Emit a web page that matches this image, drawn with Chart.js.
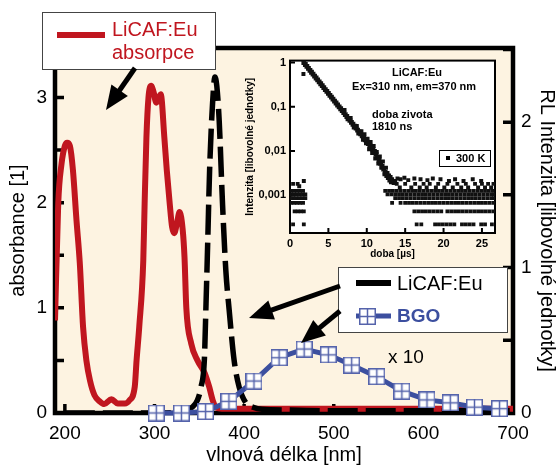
<!DOCTYPE html>
<html>
<head>
<meta charset="utf-8">
<script src="https://cdn.jsdelivr.net/npm/chart.js@4.4.1/dist/chart.umd.min.js"></script>
<style>
  body { margin: 0; background: #fff; }
  #wrap { position: relative; width: 559px; height: 466px; }
  #main { position: absolute; left: 0; top: 0; }
  #inset { position: absolute; left: 240px; top: 50px; }
</style>
</head>
<body>
<div id="wrap">
  <canvas id="main" width="559" height="466"></canvas>
  <canvas id="inset" width="265" height="215"></canvas>
</div>
<script>
// ---- main chart data ----
const absNm  = [189, 192.6, 196.3, 200, 202.6, 205.6, 209, 213, 216.7, 220.3, 224, 228, 233, 239, 244, 252, 259, 267, 272, 278, 280, 283, 287.5, 289, 291, 293.3, 296.5, 299, 302, 307, 311, 313.7, 317, 319.6, 322, 325, 328, 331.5, 333.5, 335.5, 341, 348, 356, 361, 365, 369, 375, 400, 500, 600, 700];
const absVal = [0.88, 1.99, 2.37, 2.54, 2.57, 2.54, 2.31, 1.83, 1.42, 0.82, 0.5, 0.31, 0.17, 0.11, 0.085, 0.13, 0.09, 0.09, 0.12, 0.25, 0.5, 0.82, 1.45, 1.99, 2.62, 3.0, 3.11, 3.05, 2.95, 3.03, 2.62, 2.31, 1.99, 1.77, 1.71, 1.8, 1.91, 1.74, 1.48, 1.0, 0.66, 0.5, 0.38, 0.25, 0.12, 0.05, 0.04, 0.04, 0.04, 0.04, 0.04];

const rlNm  = [200, 300, 335, 342, 348, 352, 355.6, 357.5, 359.5, 361.5, 364.8, 367.4, 369.5, 372.2, 375.9, 379.6, 383.3, 388.9, 394.4, 402, 410, 420, 450, 500, 600, 700];
const rlVal = [0, 0, 0.01, 0.04, 0.09, 0.18, 0.36, 0.75, 1.2, 1.67, 2.13, 2.31, 2.25, 2.01, 1.44, 0.98, 0.71, 0.36, 0.18, 0.07, 0.04, 0.025, 0.02, 0.015, 0.015, 0.015];

const bgoNm  = [302, 330, 357, 383, 411, 439, 467, 494, 520, 548, 576, 604, 630, 657, 685];
const bgoVal = [0, 0, 0.01, 0.08, 0.22, 0.38, 0.44, 0.40, 0.33, 0.25, 0.15, 0.09, 0.07, 0.04, 0.03];

const xTicks  = [200, 300, 400, 500, 600, 700];
const yTicks  = [0, 0.5, 1, 1.5, 2, 2.5, 3];
const y2Ticks = [0, 0.5, 1, 1.5, 2, 2.5];

// ---- inset data (decay, µs / rel. intensity) ----
const decayT = [1.8, 2.0, 2.2, 2.4, 2.6, 2.8, 3.0, 3.2, 3.4, 3.6, 3.8, 4.0, 4.2, 4.4, 4.6, 4.8, 5.0, 5.2, 5.4, 5.6, 5.8, 6.0, 6.2, 6.4, 6.6, 6.8, 7.0, 7.2, 7.4, 7.6, 7.8, 8.0, 8.2, 8.4, 8.6, 8.8, 9.0, 9.2, 9.4, 9.6, 9.8, 10.0, 10.2, 10.4, 10.6, 10.8, 11.0, 11.2, 11.4, 11.6, 11.8, 12.0, 12.2, 12.4, 12.6, 12.8, 13.0, 13.2];
const decayI = [1.0, 0.905, 0.818, 0.741, 0.670, 0.606, 0.548, 0.496, 0.449, 0.406, 0.367, 0.332, 0.301, 0.272, 0.246, 0.223, 0.201, 0.182, 0.165, 0.149, 0.135, 0.122, 0.110, 0.100, 0.0904, 0.0817, 0.0739, 0.0668, 0.0604, 0.0546, 0.0494, 0.0446, 0.0404, 0.0365, 0.0330, 0.0298, 0.0270, 0.0244, 0.0220, 0.0199, 0.0180, 0.0163, 0.0147, 0.0133, 0.0120, 0.0109, 0.0098, 0.0084, 0.0072, 0.0062, 0.0053, 0.0045, 0.0039, 0.0033, 0.0028, 0.0025, 0.0022, 0.0020];

const bandT = [1.75, 1.2, 1.8, 7.1, 7.5, 7.9, 8.3, 8.7, 8.9, 9.3, 9.5, 9.7, 9.9, 10.1, 10.3, 10.5, 10.7, 10.9, 11.1, 11.3, 11.5, 11.7, 11.9, 12.1, 12.3, 12.5, 12.7, 12.9, 13.1, 13.3, 13.5, 13.7, 14.0, 14.4, 14.9, 15.4, 16.2, 17.0, 17.9, 18.6, 19.6, 20.7, 21.5, 22.6, 23.8, 24.9, 14.3, 15.8, 16.9, 17.8, 19.0, 20.1, 21.2, 22.3, 23.2, 24.5, 25.4, 26.2];
const bandI = [0.55, 0.0016, 0.0021, 0.085, 0.052, 0.056, 0.034, 0.037, 0.025, 0.028, 0.018, 0.024, 0.015, 0.019, 0.011, 0.016, 0.009, 0.013, 0.0068, 0.0095, 0.0052, 0.0075, 0.0042, 0.0058, 0.0030, 0.0042, 0.0032, 0.0028, 0.0026, 0.0023, 0.0019, 0.0021, 0.0024, 0.0023, 0.0025, 0.0022, 0.0024, 0.0023, 0.0022, 0.0024, 0.0023, 0.0021, 0.0023, 0.0021, 0.0023, 0.0021, 0.0015, 0.0015, 0.0015, 0.0015, 0.0015, 0.0015, 0.0015, 0.0015, 0.0015, 0.0015, 0.0015, 0.0015];

// background counts: one intensity level per row, times at which it occurs
const floorLevels = [0.00022, 0.00043, 0.00067, 0.00086, 0.00105, 0.00126, 0.0018];
const floorTimes = [
  [0.4, 1.8, 16.5, 17.1, 18.9, 19.4, 19.9, 20.4, 20.9, 21.4, 22.4, 22.9, 23.4, 23.9, 24.9, 25.4, 26.3],
  [0.6, 1.0, 1.4, 1.8, 16.2, 16.7, 17.2, 17.7, 18.2, 18.7, 19.2, 19.7, 20.5, 21.0, 21.5, 22.0, 22.5, 23.0, 23.5, 24.0, 24.5, 25.0, 25.5, 26.0, 26.5],
  [0.1, 0.5, 0.9, 1.3, 1.7, 13.3, 14.4, 15.0, 15.5, 16.0, 16.5, 17.0, 17.5, 18.0, 18.5, 19.0, 19.5, 20.0, 20.5, 21.0, 21.5, 22.0, 22.5, 23.0, 23.5, 24.0, 24.5, 25.0, 25.5, 26.0, 26.5],
  [0.0, 0.4, 0.8, 1.2, 1.6, 2.0, 13.7, 14.2, 14.7, 15.2, 15.7, 16.2, 16.7, 17.2, 17.7, 18.2, 18.7, 19.2, 19.7, 20.2, 20.7, 21.2, 21.7, 22.2, 22.7, 23.2, 23.7, 24.2, 24.7, 25.2, 25.7, 26.2, 26.6],
  [0.1, 0.5, 0.9, 1.3, 1.7, 2.0, 12.7, 13.2, 13.7, 14.2, 14.7, 15.2, 15.7, 16.2, 16.7, 17.2, 17.7, 18.2, 18.7, 19.2, 19.7, 20.2, 20.7, 21.2, 21.7, 22.2, 22.7, 23.2, 23.7, 24.2, 24.7, 25.2, 25.7, 26.2, 26.6],
  [0.1, 0.5, 0.9, 1.3, 1.7, 12.4, 12.9, 13.4, 13.9, 14.4, 14.9, 15.4, 15.9, 16.4, 16.9, 17.4, 17.9, 18.4, 18.9, 19.4, 19.9, 20.4, 20.9, 21.4, 21.9, 22.4, 22.9, 23.4, 23.9, 24.4, 24.9, 25.4, 25.9, 26.4],
  [0.4, 1.0, 13.9, 15.0, 16.3, 17.4, 18.2, 19.3, 20.5, 21.8, 22.9, 24.1, 25.0, 25.8, 26.5]
];

const insetXTicks = [0, 5, 10, 15, 20, 25];
const insetYTicks = [0.001, 0.01, 0.1, 1];
const insetYLabels = ['0,001', '0,01', '0,1', '1'];

// ---- styling ----
const FONT = '"Liberation Sans", Arial, sans-serif';
const RED = '#c0161f';
const BLUE = '#3c4f9f';
Chart.defaults.font.family = FONT;
Chart.defaults.color = '#000';

function zip(xs, ys) {
  return xs.map((x, i) => ({ x: x, y: ys[i] }));
}

function gridMarker(size) {
  const c = document.createElement('canvas');
  c.width = c.height = size;
  const g = c.getContext('2d');
  g.fillStyle = '#fff';
  g.fillRect(0, 0, size, size);
  g.strokeStyle = '#5563ab';
  g.lineWidth = 1.5;
  g.strokeRect(0.75, 0.75, size - 1.5, size - 1.5);
  g.beginPath();
  g.moveTo(size / 2, 1); g.lineTo(size / 2, size - 1);
  g.moveTo(1, size / 2); g.lineTo(size - 1, size / 2);
  g.stroke();
  return c;
}
const bgoMarker = gridMarker(17);

function arrow(ctx, x1, y1, x2, y2) {
  const a = Math.atan2(y2 - y1, x2 - x1);
  const L = 24, W = 10;
  const bx = x2 - L * Math.cos(a), by = y2 - L * Math.sin(a);
  ctx.strokeStyle = '#000';
  ctx.fillStyle = '#000';
  ctx.lineWidth = 5;
  ctx.beginPath();
  ctx.moveTo(x1, y1);
  ctx.lineTo(bx + 4 * Math.cos(a), by + 4 * Math.sin(a));
  ctx.stroke();
  ctx.beginPath();
  ctx.moveTo(x2, y2);
  ctx.lineTo(bx + W * Math.sin(a), by - W * Math.cos(a));
  ctx.lineTo(bx - W * Math.sin(a), by + W * Math.cos(a));
  ctx.closePath();
  ctx.fill();
}

// cream plot area, thick frame, inward ticks
const framePlugin = {
  id: 'frame',
  beforeDatasetsDraw(chart) {
    const { ctx, chartArea: a, scales } = chart;
    ctx.save();
    ctx.fillStyle = '#fdf3e1';
    ctx.fillRect(a.left, a.top, a.right - a.left, a.bottom - a.top);
    ctx.strokeStyle = '#000';
    ctx.lineWidth = 3.5;
    ctx.beginPath();
    scales.x.ticks.forEach(t => {
      const p = scales.x.getPixelForValue(t.value);
      ctx.moveTo(p, a.bottom); ctx.lineTo(p, a.bottom - 9);
    });
    scales.y.ticks.forEach(t => {
      const p = scales.y.getPixelForValue(t.value);
      ctx.moveTo(a.left, p); ctx.lineTo(a.left + 9, p);
    });
    scales.y2.ticks.forEach(t => {
      const p = scales.y2.getPixelForValue(t.value);
      ctx.moveTo(a.right, p); ctx.lineTo(a.right - 10, p);
    });
    ctx.stroke();
    ctx.lineWidth = 4.5;
    ctx.strokeRect(a.left, a.top, a.right - a.left, a.bottom - a.top);
    ctx.restore();
  }
};

// legend boxes, arrows, "x 10"
const notesPlugin = {
  id: 'notes',
  afterDraw(chart) {
    const ctx = chart.ctx;
    ctx.save();
    // legend 1
    ctx.fillStyle = '#fff';
    ctx.fillRect(42, 12, 173, 57);
    ctx.strokeStyle = '#444';
    ctx.lineWidth = 1;
    ctx.strokeRect(42.5, 12.5, 173, 57);
    ctx.strokeStyle = RED;
    ctx.lineWidth = 6;
    ctx.beginPath(); ctx.moveTo(57, 35); ctx.lineTo(105, 35); ctx.stroke();
    ctx.fillStyle = RED;
    ctx.font = '20px ' + FONT;
    ctx.textBaseline = 'middle';
    ctx.textAlign = 'left';
    ctx.fillText('LiCAF:Eu', 112, 30);
    ctx.fillText('absorpce', 112, 53);
    arrow(ctx, 135, 68, 106, 110);

    // legend 2
    ctx.fillStyle = '#fff';
    ctx.fillRect(338, 267, 169, 65);
    ctx.strokeStyle = '#444';
    ctx.lineWidth = 1;
    ctx.strokeRect(338.5, 267.5, 169, 65);
    ctx.strokeStyle = '#000';
    ctx.lineWidth = 6;
    ctx.beginPath(); ctx.moveTo(356, 283); ctx.lineTo(391, 283); ctx.stroke();
    ctx.fillStyle = '#000';
    ctx.font = '20px ' + FONT;
    ctx.fillText('LiCAF:Eu', 397, 284);
    ctx.strokeStyle = BLUE;
    ctx.lineWidth = 5;
    ctx.beginPath(); ctx.moveTo(356, 316); ctx.lineTo(391, 316); ctx.stroke();
    ctx.drawImage(bgoMarker, 359, 308);
    ctx.fillStyle = BLUE;
    ctx.font = 'bold 19px ' + FONT;
    ctx.fillText('BGO', 397, 317);
    arrow(ctx, 340, 286, 249, 318);
    arrow(ctx, 340, 311, 301, 343);

    ctx.fillStyle = '#000';
    ctx.font = '19px ' + FONT;
    ctx.fillText('x 10', 388, 358);
    ctx.restore();
  }
};

new Chart(document.getElementById('main'), {
  type: 'line',
  data: {
    datasets: [
      {
        label: 'BGO',
        data: zip(bgoNm, bgoVal),
        yAxisID: 'y2',
        borderColor: BLUE,
        borderWidth: 5,
        pointStyle: bgoMarker,
        pointRadius: 8,
        clip: false,
        order: 0
      },
      {
        label: 'LiCAF:Eu RL',
        data: zip(rlNm, rlVal),
        yAxisID: 'y2',
        borderColor: '#000',
        borderWidth: 5.5,
        borderDash: [30, 8],
        pointRadius: 0,
        cubicInterpolationMode: 'monotone',
        order: 1
      },
      {
        label: 'LiCAF:Eu absorpce',
        data: zip(absNm, absVal),
        yAxisID: 'y',
        borderColor: RED,
        borderWidth: 6,
        pointRadius: 0,
        cubicInterpolationMode: 'monotone',
        order: 2
      }
    ]
  },
  options: {
    responsive: false,
    animation: false,
    devicePixelRatio: 1,
    layout: { padding: { top: 48, left: 0, right: 0, bottom: 0 } },
    plugins: { legend: { display: false }, tooltip: { enabled: false } },
    scales: {
      x: {
        type: 'linear',
        min: 189,
        max: 700,
        afterBuildTicks: s => { s.ticks = xTicks.map(v => ({ value: v })); },
        afterFit: s => { s.height = 53; },
        grid: { display: false, drawTicks: false },
        border: { display: false },
        ticks: { font: { size: 19 }, padding: 9, maxRotation: 0, autoSkip: false },
        title: { display: true, text: 'vlnová délka [nm]', font: { size: 20 }, padding: { top: 0, bottom: -1 } }
      },
      y: {
        position: 'left',
        min: 0,
        max: 3.47,
        afterBuildTicks: s => { s.ticks = yTicks.map(v => ({ value: v })); },
        afterFit: s => { s.width = 55; },
        grid: { display: false, drawTicks: false },
        border: { display: false },
        ticks: { font: { size: 19 }, padding: 8, autoSkip: false, callback: v => Number.isInteger(v) ? String(v) : '' },
        title: { display: true, text: 'absorbance [1]', font: { size: 20 }, padding: { top: 6, bottom: 0 } }
      },
      y2: {
        position: 'right',
        min: 0,
        max: 2.51,
        afterBuildTicks: s => { s.ticks = y2Ticks.map(v => ({ value: v })); },
        afterFit: s => { s.width = 46; },
        grid: { display: false, drawTicks: false },
        border: { display: false },
        ticks: { font: { size: 19 }, padding: 8, autoSkip: false, callback: v => Number.isInteger(v) ? String(v) : '' },
        title: { display: true, text: 'RL Intenzita [libovolné jednotky]', font: { size: 20 }, padding: { top: 0, bottom: 0 } }
      }
    }
  },
  plugins: [framePlugin, notesPlugin]
});

// ---- inset ----
const insetFrame = {
  id: 'insetFrame',
  beforeDatasetsDraw(chart) {
    const { ctx, chartArea: a, scales } = chart;
    ctx.save();
    ctx.fillStyle = '#fff';
    ctx.fillRect(a.left, a.top, a.right - a.left, a.bottom - a.top);
    ctx.strokeStyle = '#000';
    ctx.lineWidth = 2;
    ctx.beginPath();
    scales.x.ticks.forEach(t => {
      const p = scales.x.getPixelForValue(t.value);
      ctx.moveTo(p, a.bottom); ctx.lineTo(p, a.bottom - 5);
    });
    scales.y.ticks.forEach(t => {
      const p = scales.y.getPixelForValue(t.value);
      ctx.moveTo(a.left, p); ctx.lineTo(a.left + 5, p);
    });
    ctx.stroke();
    ctx.strokeRect(a.left, a.top, a.right - a.left, a.bottom - a.top);
    ctx.restore();
  },
  afterDraw(chart) {
    const ctx = chart.ctx;
    ctx.save();
    ctx.fillStyle = '#000';
    ctx.font = 'bold 11px ' + FONT;
    ctx.textBaseline = 'middle';
    ctx.textAlign = 'center';
    ctx.fillText('LiCAF:Eu', 177, 23);
    ctx.fillText('Ex=310 nm, em=370 nm', 174, 37);
    ctx.textAlign = 'left';
    ctx.fillText('doba zivota', 132, 65);
    ctx.fillText('1810 ns', 132, 77);
    ctx.fillStyle = '#fff';
    ctx.fillRect(199, 100, 51, 16);
    ctx.strokeStyle = '#000';
    ctx.lineWidth = 1;
    ctx.strokeRect(199.5, 100.5, 51, 16);
    ctx.fillStyle = '#000';
    ctx.fillRect(206, 106, 4, 4);
    ctx.fillText('300 K', 216, 109);
    ctx.restore();
  }
};

const insetSets = [
  { data: zip(decayT, decayI), pointRadius: 3.4 },
  { data: zip(bandT, bandI), pointRadius: 2.8 }
];
floorLevels.forEach((lv, i) => {
  insetSets.push({ data: floorTimes[i].map(t => ({ x: t, y: lv })), pointRadius: 2.7 });
});
insetSets.forEach(d => {
  d.pointStyle = 'rect';
  d.backgroundColor = '#111';
  d.borderWidth = 0;
});

new Chart(document.getElementById('inset'), {
  type: 'scatter',
  data: { datasets: insetSets },
  options: {
    responsive: false,
    animation: false,
    devicePixelRatio: 1,
    layout: { padding: { top: 9, right: 10, left: 0, bottom: 0 } },
    plugins: { legend: { display: false }, tooltip: { enabled: false } },
    scales: {
      x: {
        type: 'linear',
        min: 0,
        max: 26.7,
        afterBuildTicks: s => { s.ticks = insetXTicks.map(v => ({ value: v })); },
        afterFit: s => { s.height = 32; },
        grid: { display: false, drawTicks: false },
        border: { display: false },
        ticks: { font: { size: 11, weight: 'bold' }, padding: 4, maxRotation: 0, autoSkip: false },
        title: { display: true, text: 'doba [µs]', font: { size: 10, weight: 'bold' }, padding: { top: 0, bottom: 5 } }
      },
      y: {
        type: 'logarithmic',
        min: 0.00014,
        max: 1.11,
        afterBuildTicks: s => { s.ticks = insetYTicks.map(v => ({ value: v })); },
        afterFit: s => { s.width = 50; },
        grid: { display: false, drawTicks: false },
        border: { display: false },
        ticks: { font: { size: 11, weight: 'bold' }, padding: 4, autoSkip: false, callback: (v, i) => insetYLabels[i] },
        title: { display: true, text: 'Intenzita [libovolné jednotky]', font: { size: 10, weight: 'bold' }, padding: { top: 4, bottom: 0 } }
      }
    }
  },
  plugins: [insetFrame]
});
</script>
</body>
</html>
